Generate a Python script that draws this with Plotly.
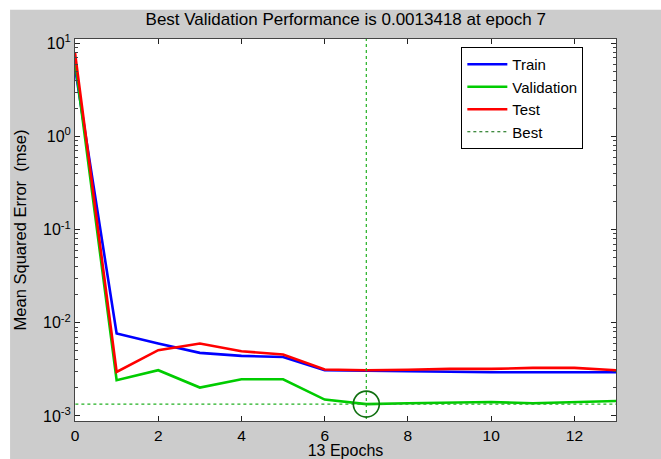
import plotly.graph_objects as go

epochs = list(range(0, 14))
train = [5.5, 0.00769, 0.0060, 0.00476, 0.00442, 0.0043, 0.0031, 0.00305,
         0.0030, 0.0030, 0.00295, 0.00295, 0.00295, 0.00295]
validation = [6.5, 0.00242, 0.0031, 0.00202, 0.00248, 0.00248, 0.0015, 0.0013418,
              0.00137, 0.00140, 0.00141, 0.00137, 0.00141, 0.00145]
test = [7.9, 0.00297, 0.00509, 0.0060, 0.00496, 0.00457, 0.00315, 0.0031,
        0.00313, 0.0032, 0.0032, 0.00328, 0.00328, 0.0031]
best_epoch = 7
best_value = 0.0013418
title_text = "Best Validation Performance is 0.0013418 at epoch 7"
ytick_vals = [1e-3, 1e-2, 1e-1, 1e0, 1e1]
ytick_text = ["10<sup>-3</sup>", "10<sup>-2</sup>", "10<sup>-1</sup>", "10<sup>0</sup>", "10<sup>1</sup>"]
xtick_vals = [0, 2, 4, 6, 8, 10, 12]

FONT = "Liberation Sans, Arial, sans-serif"
W, H = 661, 459
L, R, T, B = 75, 44.5, 39.3, 38.3

fig = go.Figure()
fig.add_trace(go.Scatter(x=epochs, y=train, mode="lines", name="Train",
                         line=dict(color="#0000ff", width=2.6)))
fig.add_trace(go.Scatter(x=epochs, y=validation, mode="lines", name="Validation",
                         line=dict(color="#00cc00", width=2.6)))
fig.add_trace(go.Scatter(x=epochs, y=test, mode="lines", name="Test",
                         line=dict(color="#ff0000", width=2.6)))
# Best lines
fig.add_trace(go.Scatter(x=[best_epoch, best_epoch], y=[1e-4, 1e2], mode="lines", name="Best",
                         line=dict(color="#22b022", width=1.2, dash="dot"), showlegend=False))
fig.add_trace(go.Scatter(x=[-1, 14], y=[best_value, best_value], mode="lines", name="Best",
                         line=dict(color="#22b022", width=1.2, dash="dot"), showlegend=False))
fig.add_trace(go.Scatter(x=[None], y=[None], mode="lines", name="Best",
                         line=dict(color="#006400", width=1, dash="dot")))
fig.add_trace(go.Scatter(x=[best_epoch], y=[best_value], mode="markers", showlegend=False,
                         marker=dict(symbol="circle-open", size=26,
                                     line=dict(color="#107010", width=1.6), color="#107010")))

pw = W - L - R
ph = H - T - B
def px2x(px):
    return (px - L) / pw
def py2y(py):
    return (H - B - py) / ph

shapes = [
    dict(type="rect", xref="paper", yref="paper", x0=px2x(-5), x1=px2x(W + 5),
         y0=py2y(10), y1=py2y(-5), fillcolor="white", line=dict(width=0), layer="above"),
    dict(type="rect", xref="paper", yref="paper", x0=px2x(-5), x1=px2x(10),
         y0=py2y(H + 5), y1=py2y(-5), fillcolor="white", line=dict(width=0), layer="above"),
]

minor_vals = [k * 10 ** n for n in range(-3, 1) for k in range(2, 10)]

fig.update_layout(
    width=W, height=H,
    margin=dict(l=L, r=R, t=T, b=B, pad=0, autoexpand=False),
    paper_bgcolor="#cccccc", plot_bgcolor="white",
    font=dict(family=FONT, size=16, color="black"),
    title=dict(text=title_text, x=(L + pw / 2) / W, xanchor="center",
               y=1 - 19 / H, yanchor="middle", font=dict(size=17, family=FONT)),
    shapes=shapes,
    showlegend=True,
    legend=dict(x=px2x(461.7), y=py2y(47.3), xanchor="left", yanchor="top",
                bgcolor="white", bordercolor="black", borderwidth=1,
                font=dict(size=15, family=FONT), tracegroupgap=0,
                itemwidth=40),
)
fig.update_xaxes(range=[0, 13], tickmode="array", tickvals=xtick_vals,
                 ticks="inside", ticklen=5, tickcolor="#222", tickwidth=1,
                 showline=True, linecolor="#444", linewidth=1, mirror="ticks",
                 showgrid=False, zeroline=False, automargin=False,
                 tickfont=dict(size=15.5),
                 title=dict(text="13 Epochs", font=dict(size=16), standoff=0))
fig.update_yaxes(type="log", range=[-3.054, 1.047], tickmode="array",
                 tickvals=ytick_vals, ticktext=ytick_text,
                 ticks="inside", ticklen=5, tickcolor="#222", tickwidth=1,
                 showline=True, linecolor="#444", linewidth=1, mirror="ticks",
                 showgrid=False, zeroline=False, automargin=False,
                 tickfont=dict(size=16),
                 minor=dict(ticks="inside", ticklen=3, tickcolor="#444",
                            tickvals=minor_vals, showgrid=False),
                 title=dict(text="Mean Squared Error  (mse)", font=dict(size=16.5), standoff=12))

fig.write_html("out.html")
